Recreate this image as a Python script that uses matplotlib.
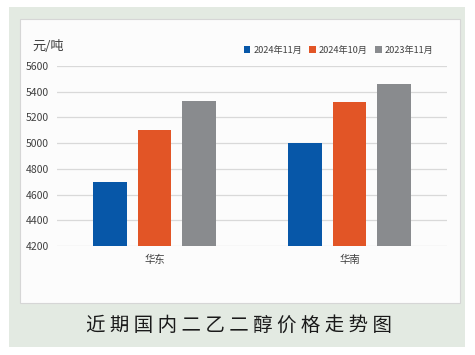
import numpy as np
import matplotlib
matplotlib.use('Agg')
import matplotlib.pyplot as plt
from matplotlib.patches import Rectangle

plt.rcParams['font.family'] = ['Noto Sans CJK SC', 'DejaVu Sans']

regions = ['华东', '华南']
series = ['2024年11月', '2024年10月', '2023年11月']
nov_2024 = [4700, 5000]
oct_2024 = [5100, 5320]
nov_2023 = [5330, 5460]
colors = ['#0757a8', '#e25526', '#898b8e']
yticks = [4200, 4400, 4600, 4800, 5000, 5200, 5400, 5600]

W, H = 475, 355
fig = plt.figure(figsize=(W / 100, H / 100), dpi=100)
fig.patch.set_facecolor('white')

# outer green panel and inner chart box (pixel coords -> figure fraction)
def box(x0, y0, x1, y1, **kw):
    r = Rectangle((x0 / W, 1 - y1 / H), (x1 - x0) / W, (y1 - y0) / H,
                  transform=fig.transFigure, zorder=-5, **kw)
    fig.patches.append(r)

box(9, 7, 465, 347, facecolor='#e3eae2', edgecolor='none')
box(20, 19, 460, 303, facecolor='#fcfcfc', edgecolor='#d6d6d6', linewidth=0.8)

ax = fig.add_axes([57 / W, 1 - 246 / H, 390 / W, 180 / H])
ax.set_facecolor('none')
ax.set_zorder(2)

x = np.arange(len(regions))
width = 0.174
step = 0.226
for i, (vals, name) in enumerate(zip([nov_2024, oct_2024, nov_2023], series)):
    ax.bar(x + (i - 1) * step, np.array(vals) - 4200, bottom=4200, width=width,
           color=colors[i], label=name, zorder=3)

ax.set_xlim(-0.5, 1.5)
ax.set_ylim(4200, 5600)
ax.set_yticks(yticks)
ax.set_yticklabels([str(v) for v in yticks], fontsize=7.5, color='#404040')
ax.set_xticks(x)
ax.set_xticklabels(regions, fontsize=7.5, color='#404040')
ax.tick_params(axis='both', length=0)
ax.tick_params(axis='y', pad=6)
ax.tick_params(axis='x', pad=6)
ax.grid(axis='y', color='#d9d9d9', linewidth=0.9, zorder=0)
for s in ax.spines.values():
    s.set_visible(False)

fig.text(32 / W, 1 - 46 / H, '元/吨', fontsize=9.5, color='#404040', va='center')

leg = ax.legend(loc='center', bbox_to_anchor=(338.5 / W, 1 - 50 / H),
                bbox_transform=fig.transFigure, ncol=3, frameon=False,
                fontsize=6.6, handlelength=0.75, handleheight=0.75,
                handletextpad=0.3, columnspacing=0.8, borderpad=0)
for t in leg.get_texts():
    t.set_color('#404040')

fig.text(239 / W, 1 - 325 / H, ' '.join('近期国内二乙二醇价格走势图'), fontsize=14,
         color='#1a1a1a', ha='center', va='center')

fig.savefig('out.png', dpi=100)
